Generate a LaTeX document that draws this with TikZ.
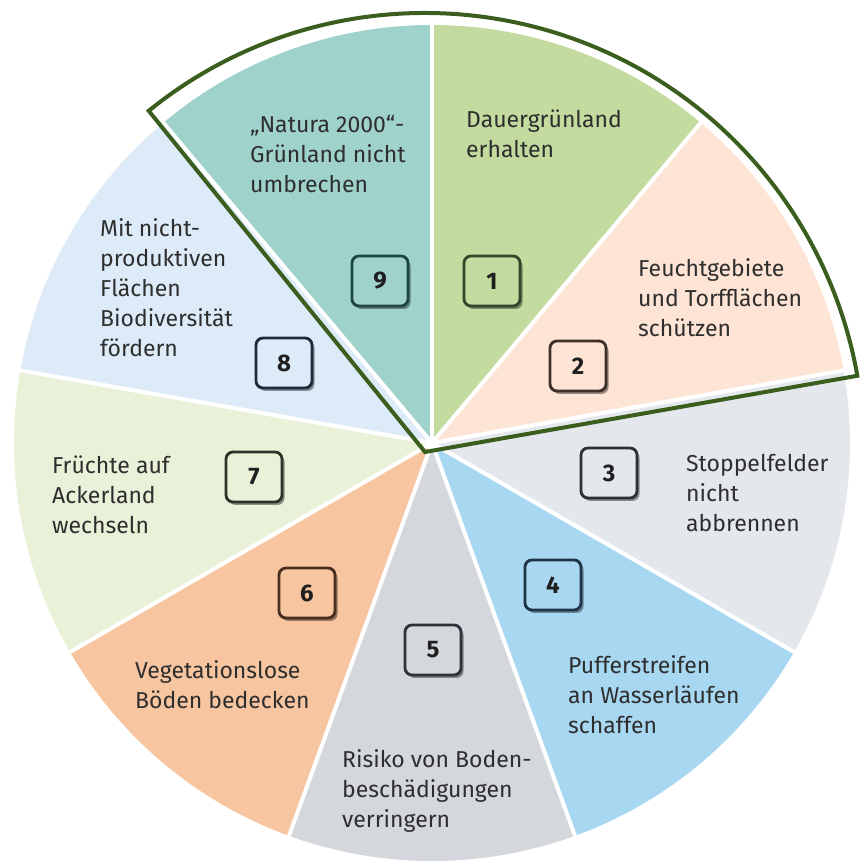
\documentclass[tikz,border=0pt]{standalone}
\usepackage{fontspec}
\setmainfont{Fira Sans}
\usetikzlibrary{shadows}
\usepackage{xcolor}

% Sektorfarben und Rahmenfarben
\definecolor{c1}{HTML}{C4DBA0}
\definecolor{c2}{HTML}{FDE4D4}
\definecolor{c3}{HTML}{E4E7EB}
\definecolor{c4}{HTML}{A8D7F2}
\definecolor{c5}{HTML}{D4D7DB}
\definecolor{c6}{HTML}{F7C6A0}
\definecolor{c7}{HTML}{E9F1D8}
\definecolor{c8}{HTML}{DCEBF7}
\definecolor{c9}{HTML}{A0D2CC}
\definecolor{b1}{HTML}{33472A}
\definecolor{b2}{HTML}{3D3028}
\definecolor{b3}{HTML}{2C3035}
\definecolor{b4}{HTML}{1F3547}
\definecolor{b5}{HTML}{2C333B}
\definecolor{b6}{HTML}{4A2E20}
\definecolor{b7}{HTML}{2D3326}
\definecolor{b8}{HTML}{1F2B3D}
\definecolor{b9}{HTML}{1E4545}
\definecolor{rahmen}{HTML}{3B5E1F}

\tikzset{
  numbox/.style={draw=#1, rounded corners=7pt, line width=2.8pt,
    minimum width=56pt, minimum height=50pt, inner sep=0pt,
    font=\fontsize{24}{28}\selectfont\bfseries, text=black!88,
    drop shadow={shadow xshift=2.5pt, shadow yshift=-3pt, opacity=0.4, fill=black}},
  lbl/.style={anchor=north west, align=left, inner sep=0pt, text=black!82,
    font=\fontsize{23}{30}\selectfont}
}

\begin{document}
\begin{tikzpicture}[x=1pt,y=1pt]
  \path[use as bounding box] (0,0) rectangle (861,862);
  \coordinate (C) at (432,419);
  % Sektoren, je 40 Grad
  \foreach \i in {1,...,9}{
    \fill[c\i] (C) -- ++({90-40*\i}:418)
      arc[start angle={90-40*\i}, end angle={130-40*\i}, radius=418] -- cycle;
  }
  % weisse Trennlinien
  \foreach \a in {10,50,...,330}{
    \draw[white,line width=4pt] (C) -- ++(\a:422);
  }
  % Rahmen um 9, 1 und 2
  \coordinate (R) at (425,410);
  \draw[rahmen,line width=4pt,line join=miter] (R) -- ++(129:439)
    arc[start angle=129, end angle=10, radius=439] -- cycle;
  % Nummern
  \foreach \i/\x/\y in {1/492/581, 2/578/496, 3/609/389, 4/553/277, 5/433/212,
                        6/307/269, 7/254/385, 8/284/499, 9/380/581}{
    \node[numbox=b\i, fill=c\i] (n\i) at (\x,\y) {\i};
  }
  % Beschriftungen
  \node[lbl] (t1) at (466,752) {Dauergrünland\\erhalten};
  \node[lbl] (t2) at (638,604) {Feuchtgebiete\\und Torfflächen\\schützen};
  \node[lbl] (t3) at (686,408) {Stoppelfelder\\nicht\\abbrennen};
  \node[lbl] (t4) at (568,207) {Pufferstreifen\\an Wasserläufen\\schaffen};
  \node[lbl] (t5) at (342,113) {Risiko von Boden-\\beschädigungen\\verringern};
  \node[lbl] (t6) at (135,202) {Vegetationslose\\Böden bedecken};
  \node[lbl] (t7) at (52,406) {Früchte auf\\Ackerland\\wechseln};
  \node[lbl] (t8) at (100,644) {Mit nicht-\\produktiven\\Flächen\\Biodiversität\\fördern};
  \node[lbl] (t9) at (250,747) {„Natura 2000“-\\Grünland nicht\\umbrechen};
\end{tikzpicture}
\end{document}
